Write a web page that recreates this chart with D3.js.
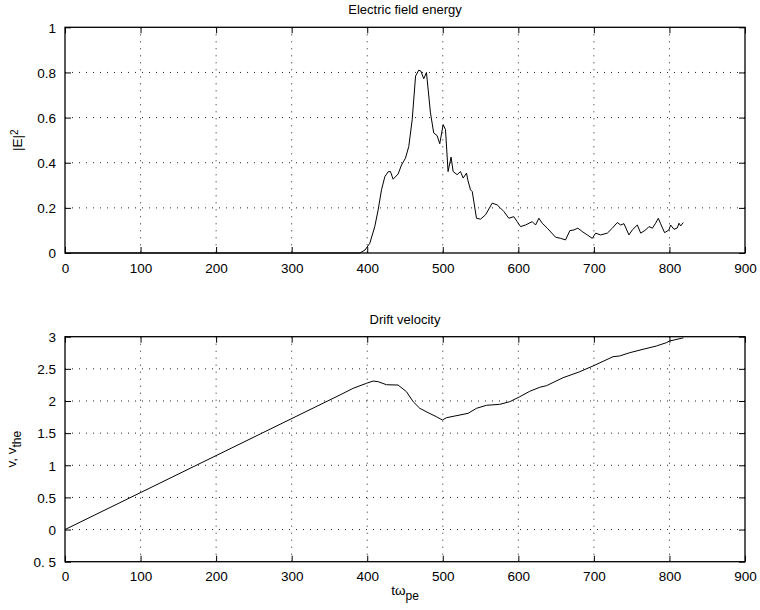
<!DOCTYPE html>
<html>
<head>
<meta charset="utf-8">
<script src="https://cdn.jsdelivr.net/npm/d3@7"></script>
<style>
	body { margin: 0; background: #fff; }
	svg { font-family: "Liberation Sans", Arial, Helvetica, sans-serif; }
</style>
</head>
<body>
<div id="chart"></div>
<script>
	// electric field energy |E|^2 vs t*w_pe
	var energyT = [0, 390, 397, 403.4, 410, 414.4, 418.9, 423.3, 427.7, 430.7, 434.3, 440.9, 445.4, 450.6, 455, 459.5,
		464, 468.2, 471, 474.8, 478.4, 483.7, 488, 492.5, 496, 500.5, 503.6, 507, 511, 513.7, 519, 523.4,
		527, 531.4, 533.1, 536.7, 539, 544.6, 550, 556.6, 565.4, 572, 576.4, 580.8, 587.4, 594, 598.5,
		602.9, 609.5, 618.4, 622.8, 627.2, 631.6, 638.3, 649.3, 656, 662.5, 668.2, 673.5, 678.8, 684.6,
		691.3, 697.9, 702.3, 708.9, 717.8, 724.4, 731, 735.4, 739.8, 746.4, 750.8, 757.5, 761.9, 768.5,
		772.9, 777.4, 781.7, 785.3, 788, 793.6, 799.3, 801.6, 806, 810.4, 812.6, 814.8, 818.4];
	var energyE = [0, 0, 0.013, 0.043, 0.117, 0.19, 0.28, 0.338, 0.36, 0.361, 0.327, 0.35, 0.39, 0.42, 0.472, 0.59,
		0.784, 0.81, 0.806, 0.772, 0.80, 0.621, 0.532, 0.52, 0.484, 0.569, 0.547, 0.361, 0.425, 0.361, 0.347, 0.361,
		0.332, 0.354, 0.324, 0.28, 0.272, 0.154, 0.15, 0.169, 0.221, 0.213, 0.199, 0.184, 0.154, 0.161, 0.139,
		0.117, 0.124, 0.139, 0.124, 0.154, 0.132, 0.11, 0.07, 0.065, 0.058, 0.099, 0.102, 0.11, 0.095,
		0.08, 0.065, 0.088, 0.08, 0.088, 0.11, 0.135, 0.124, 0.13, 0.08, 0.102, 0.124, 0.088, 0.102,
		0.117, 0.11, 0.132, 0.154, 0.132, 0.09, 0.102, 0.124, 0.105, 0.111, 0.132, 0.12, 0.135];

	// drift velocity vs t*w_pe
	var driftT = [0, 363.8, 381.4, 399, 407.8, 414.5, 425.5, 440.9, 452, 460.8, 469.6, 480.6, 491.7, 499.6, 504.9,
		515.9, 533.5, 544.6, 557.8, 575.4, 588.6, 601.9, 615, 628.3, 637.2, 659.2, 681.2, 698.8, 725.3,
		734, 747.4, 765, 782.7, 795.9, 800.3, 815.7, 818.4];
	var driftV = [0, 2.093, 2.197, 2.275, 2.31, 2.30, 2.253, 2.248, 2.144, 1.989, 1.886, 1.818, 1.755, 1.704, 1.74,
		1.766, 1.808, 1.886, 1.933, 1.948, 1.989, 2.066, 2.15, 2.213, 2.238, 2.362, 2.455, 2.544, 2.689,
		2.70, 2.751, 2.804, 2.855, 2.907, 2.933, 2.975, 2.98];

	var xTicks = [0, 100, 200, 300, 400, 500, 600, 700, 800, 900];
	var topYTicks = [0, 0.2, 0.4, 0.6, 0.8, 1];
	var topYLabels = ["0", "0.2", "0.4", "0.6", "0.8", "1"];
	var botYTicks = [-0.5, 0, 0.5, 1, 1.5, 2, 2.5, 3];
	var botYLabels = ["0. 5", "0", "0.5", "1", "1.5", "2", "2.5", "3"];

	var W = 760, H = 610;
	var svg = d3.select("#chart").append("svg")
		.attr("width", W).attr("height", H);

	var left = 65, right = 745;

	function panel(cfg){
		var x = d3.scaleLinear().domain([0, 900]).range([left, right]);
		var y = d3.scaleLinear().domain(cfg.ydomain).range([cfg.bottom, cfg.top]);
		var g = svg.append("g");
		var h = cfg.bottom - cfg.top;

		// grid
		g.append("g")
			.selectAll("line.gx")
			.data(xTicks.slice(1, -1))
			.join("line")
			.attr("x1", d => x(d)).attr("x2", d => x(d))
			.attr("y1", cfg.top).attr("y2", cfg.bottom)
			.attr("stroke", "#222").attr("stroke-width", 1)
			.attr("stroke-dasharray", "1,6");
		g.append("g")
			.selectAll("line.gy")
			.data(cfg.yticks.slice(1, -1))
			.join("line")
			.attr("x1", left).attr("x2", right)
			.attr("y1", d => y(d)).attr("y2", d => y(d))
			.attr("stroke", "#222").attr("stroke-width", 1)
			.attr("stroke-dasharray", "1,6");

		// axes, ticks pointing inward
		g.append("g")
			.attr("transform", `translate(0,${cfg.bottom})`)
			.call(d3.axisBottom(x).tickValues(xTicks).tickSizeInner(-6).tickSizeOuter(0).tickPadding(10));
		g.append("g")
			.attr("transform", `translate(0,${cfg.top})`)
			.call(d3.axisTop(x).tickValues(xTicks).tickSizeInner(-6).tickSizeOuter(0).tickFormat(""));
		var ay = g.append("g")
			.attr("transform", `translate(${left},0)`)
			.call(d3.axisLeft(y).tickValues(cfg.yticks).tickSizeInner(-6).tickSizeOuter(0).tickPadding(9)
				.tickFormat((d, i) => cfg.ylabels[i]));
		g.append("g")
			.attr("transform", `translate(${right},0)`)
			.call(d3.axisRight(y).tickValues(cfg.yticks).tickSizeInner(-6).tickSizeOuter(0).tickFormat(""));

		g.selectAll(".domain").remove();
		g.selectAll(".tick line").attr("stroke", "#000");
		g.selectAll(".tick text")
			.attr("fill", "#000")
			.style("font-size", "13.5px")
			.style("font-family", "'Liberation Sans', Arial, sans-serif");
		ay.selectAll(".tick text").attr("dy", "0.35em");

		// box
		g.append("rect")
			.attr("x", left).attr("y", cfg.top)
			.attr("width", right - left).attr("height", h)
			.attr("fill", "none").attr("stroke", "#000").attr("stroke-width", 1.3);

		// curve
		var pts = cfg.xs.map((t, i) => [t, cfg.ys[i]]);
		g.append("path")
			.attr("d", d3.line().x(d => x(d[0])).y(d => y(d[1]))(pts))
			.attr("fill", "none")
			.attr("stroke", "#000")
			.attr("stroke-width", 1);

		// title
		g.append("text")
			.attr("x", (left + right) / 2)
			.attr("y", cfg.top - 13)
			.attr("text-anchor", "middle")
			.style("font-size", "13px")
			.text(cfg.title);

		return {x, y, g};
	}

	panel({
		top: 27.3, bottom: 253, ydomain: [0, 1], yticks: topYTicks, ylabels: topYLabels,
		xs: energyT, ys: energyE, title: "Electric field energy"
	});
	panel({
		top: 336.7, bottom: 561.7, ydomain: [-0.5, 3], yticks: botYTicks, ylabels: botYLabels,
		xs: driftT, ys: driftV, title: "Drift velocity"
	});

	// y labels
	var yl1 = svg.append("text")
		.attr("transform", `translate(22,${(27.3 + 253) / 2}) rotate(-90)`)
		.attr("text-anchor", "middle")
		.style("font-size", "13.5px");
	yl1.append("tspan").text("|E|");
	yl1.append("tspan").attr("dy", "-0.45em").style("font-size", "10px").text("2");

	var yl2 = svg.append("text")
		.attr("transform", `translate(16,${(336.7 + 561.7) / 2}) rotate(-90)`)
		.attr("text-anchor", "middle")
		.style("font-size", "13.5px");
	yl2.append("tspan").text("v, v");
	yl2.append("tspan").attr("dy", "0.4em").style("font-size", "12px").text("the");

	// x label
	var xl = svg.append("text")
		.attr("x", (left + right) / 2)
		.attr("y", 595)
		.attr("text-anchor", "middle")
		.style("font-size", "13.5px");
	xl.append("tspan").text("tω");
	xl.append("tspan").attr("dy", "0.45em").style("font-size", "12px").text("pe");
</script>
</body>
</html>
